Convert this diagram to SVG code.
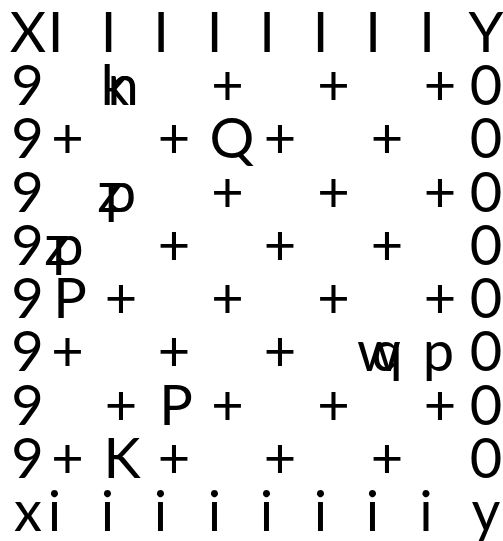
<svg xmlns="http://www.w3.org/2000/svg" width="503" height="541" viewBox="0 0 503 541">
<style>
text{font-family:"Lato","Liberation Sans",sans-serif;font-weight:400;font-size:56px;fill:#000;text-anchor:middle}
</style>
<rect width="503" height="541" fill="#fff"/>
<g id="row0">
<text x="28" y="52">X</text><text x="55.5" y="52">I</text><text x="108.5" y="52">I</text><text x="161" y="52">I</text><text x="214.5" y="52">I</text><text x="267" y="52">I</text><text x="320.5" y="52">I</text><text x="373" y="52">I</text><text x="427" y="52">I</text><text x="486" y="52">Y</text>
</g>
<g id="row1">
<text x="27.5" y="105">9</text><text x="115" y="105">k</text><text x="123" y="105">n</text><text x="227.5" y="105">+</text><text x="333.5" y="105">+</text><text x="440" y="105">+</text><text x="486" y="105">0</text>
</g>
<g id="row2">
<text x="27.5" y="158">9</text><text x="67.5" y="158">+</text><text x="174" y="158">+</text><text x="232" y="158">Q</text><text x="280" y="158">+</text><text x="387" y="158">+</text><text x="486" y="158">0</text>
</g>
<g id="row3">
<text x="27.5" y="212">9</text><text x="110" y="212">z</text><text x="120.5" y="212">p</text><text x="227.5" y="212">+</text><text x="333.5" y="212">+</text><text x="440" y="212">+</text><text x="486" y="212">0</text>
</g>
<g id="row4">
<text x="27.5" y="265">9</text><text x="57" y="265">z</text><text x="68" y="265">p</text><text x="174" y="265">+</text><text x="280" y="265">+</text><text x="387" y="265">+</text><text x="486" y="265">0</text>
</g>
<g id="row5">
<text x="27.5" y="318">9</text><text x="70" y="318">P</text><text x="121" y="318">+</text><text x="227.5" y="318">+</text><text x="333.5" y="318">+</text><text x="440" y="318">+</text><text x="486" y="318">0</text>
</g>
<g id="row6">
<text x="27.5" y="371">9</text><text x="67.5" y="371">+</text><text x="174" y="371">+</text><text x="280" y="371">+</text><text x="379" y="371">w</text><text x="387" y="371">q</text><text x="438.5" y="371">p</text><text x="486" y="371">0</text>
</g>
<g id="row7">
<text x="27.5" y="425">9</text><text x="121" y="425">+</text><text x="176" y="425">P</text><text x="227.5" y="425">+</text><text x="333.5" y="425">+</text><text x="440" y="425">+</text><text x="486" y="425">0</text>
</g>
<g id="row8">
<text x="27.5" y="478">9</text><text x="67.5" y="478">+</text><text x="122" y="478">K</text><text x="174" y="478">+</text><text x="280" y="478">+</text><text x="387" y="478">+</text><text x="486" y="478">0</text>
</g>
<g id="row9">
<text x="28" y="531">x</text><text x="54.5" y="531">i</text><text x="107.5" y="531">i</text><text x="160.5" y="531">i</text><text x="214.5" y="531">i</text><text x="266.5" y="531">i</text><text x="320.5" y="531">i</text><text x="372.5" y="531">i</text><text x="426" y="531">i</text><text x="486" y="531">y</text>
</g>
</svg>
